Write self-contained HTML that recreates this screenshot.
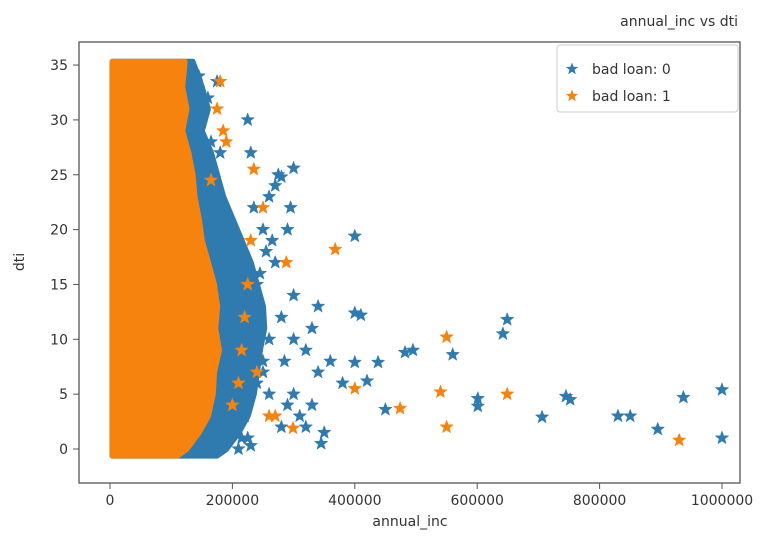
<!DOCTYPE html>
<html><head><meta charset="utf-8"><style>
body{margin:0;background:#fff;width:774px;height:548px;overflow:hidden}
svg{display:block;font-family:"DejaVu Sans","Liberation Sans",sans-serif}
</style></head><body>
<svg id="chart" width="774" height="548">
<text x="738" y="26" font-size="14" fill="#333" text-anchor="end">annual_inc vs dti</text>
<rect x="79" y="42" width="661" height="441" fill="#fff" stroke="#555" stroke-width="1.3"/>
<g id="marks"></g>
<g id="axes"></g>
<text x="410" y="526" font-size="14" fill="#333" text-anchor="middle">annual_inc</text>
<text x="0" y="0" font-size="14" fill="#333" text-anchor="middle" transform="translate(24,262) rotate(-90)">dti</text>
<g>
<rect x="557" y="45" width="181" height="67" rx="3" fill="#fff" fill-opacity="0.8" stroke="#ccc"/>
<g id="legend-marks"></g>
<text x="592" y="74" font-size="14" fill="#333">bad loan: 0</text>
<text x="592" y="101" font-size="14" fill="#333">bad loan: 1</text>
</g>
</svg>
<script>
const xTicks=[0,200000,400000,600000,800000,1000000];
const yTicks=[0,5,10,15,20,25,30,35];
// dense-region envelopes: dti level and max annual_inc at that level
const envDti=[35.3,33,31,29,27,25,23,21,19,17,15,13,11,9,7,5,3,1.5,0,-0.6];
const blueEnvMax=[135000,150000,160000,150000,165000,175000,185000,200000,215000,230000,240000,250000,252000,245000,240000,235000,225000,210000,190000,175000];
const orangeEnvMax=[122000,118000,125000,118000,128000,135000,138000,145000,150000,160000,170000,175000,172000,178000,170000,168000,160000,145000,125000,110000];
const envMinInc=4000;
const blueInc=[1000000,1000000,937000,895000,850000,830000,752000,745000,706000,649000,642000,601000,601000,560000,495000,482000,450000,438000,420000,400000,400000,400000,410000,380000,360000,345000,340000,330000,320000,300000,300000,295000,290000,285000,280000,275000,270000,265000,260000,255000,250000,245000,240000,235000,230000,225000,300000,310000,320000,340000,290000,280000,260000,250000,240000,230000,220000,215000,210000,205000,200000,270000,350000,330000,300000,280000,260000,250000,240000,230000,225000,215000,205000,175000,160000,150000,145000,140000,165000,180000];
const blueDti=[1,5.4,4.7,1.8,3,3,4.5,4.8,2.9,11.8,10.5,4.6,3.9,8.6,9,8.8,3.6,7.9,6.2,7.9,19.4,12.4,12.2,6,8,0.5,7,11,9,25.6,14,22,20,8,24.8,25,24,19,23,18,20,16,15,22,27,30,5,3,2,13,4,12,10,7,6,9,3,1,0,11,14,17,1.5,4,10,2,5,8,12,0.3,1,4,2,33.5,32,31,34,29,28,27];
const orangeInc=[930000,649000,550000,550000,540000,474000,400000,368000,299000,288000,250000,235000,230000,225000,220000,260000,270000,240000,215000,210000,200000,190000,185000,180000,175000,165000];
const orangeDti=[0.8,5,10.2,2,5.2,3.7,5.5,18.2,1.9,17,22,25.5,19,15,12,3,3,7,9,6,4,28,29,33.5,31,24.5];
const X0=110,XS=122.4/200000,Y0=449,YS=10.97;
const xs=v=>X0+v*XS, ys=v=>Y0-v*YS;
const NS="http://www.w3.org/2000/svg";
const marks=document.getElementById('marks'),axes=document.getElementById('axes');
function starPath(cx,cy,r){let d="";for(let i=0;i<10;i++){const a=-Math.PI/2+i*Math.PI/5,rr=i%2?r*0.42:r;d+=(i?"L":"M")+(cx+rr*Math.cos(a)).toFixed(1)+","+(cy+rr*Math.sin(a)).toFixed(1);}return d+"Z";}
function envelope(maxArr,color,name){
  let pts=envDti.map((d,i)=>xs(maxArr[i])+","+ys(d));
  for(let i=envDti.length-1;i>=0;i--)pts.push(xs(envMinInc)+","+ys(envDti[i]));
  const p=document.createElementNS(NS,'polygon');
  p.setAttribute('points',pts.join(' '));p.setAttribute('fill',color);
  p.setAttribute('stroke',color);p.setAttribute('stroke-width','6');p.setAttribute('stroke-linejoin','round');
  
  
  marks.appendChild(p);
}
function stars(inc,dti,color,name){
  inc.forEach((v,i)=>{const p=document.createElementNS(NS,'path');
    p.setAttribute('d',starPath(xs(v),ys(dti[i]),7));p.setAttribute('fill',color);p.setAttribute('stroke',color);p.setAttribute('stroke-width','0.5');
    
    
    marks.appendChild(p);});
}
envelope(blueEnvMax,'#2f7bb0','dense-region-bad-loan-0');
stars(blueInc,blueDti,'#2f7bb0','point-bad-loan-0');
envelope(orangeEnvMax,'#f7830f','dense-region-bad-loan-1');
stars(orangeInc,orangeDti,'#f7830f','point-bad-loan-1');
xTicks.forEach(t=>{const l=document.createElementNS(NS,'line');l.setAttribute('x1',xs(t));l.setAttribute('x2',xs(t));l.setAttribute('y1',483);l.setAttribute('y2',489);l.setAttribute('stroke','#555');
  
  
  axes.appendChild(l);
  const tx=document.createElementNS(NS,'text');tx.setAttribute('x',xs(t));tx.setAttribute('y',505);tx.setAttribute('font-size','14');tx.setAttribute('fill','#333');tx.setAttribute('text-anchor','middle');tx.textContent=t;
  
  
  axes.appendChild(tx);});
yTicks.forEach(t=>{const l=document.createElementNS(NS,'line');l.setAttribute('x1',73);l.setAttribute('x2',79);l.setAttribute('y1',ys(t));l.setAttribute('y2',ys(t));l.setAttribute('stroke','#555');
  
  
  axes.appendChild(l);
  const tx=document.createElementNS(NS,'text');tx.setAttribute('x',68);tx.setAttribute('y',ys(t)+5);tx.setAttribute('font-size','14');tx.setAttribute('fill','#333');tx.setAttribute('text-anchor','end');tx.textContent=t;
  
  
  axes.appendChild(tx);});
const lm=document.getElementById('legend-marks');
[['#2f7bb0',69],['#f7830f',96]].forEach(([c,y])=>{const p=document.createElementNS(NS,'path');p.setAttribute('d',starPath(572,y,6.5));p.setAttribute('fill',c);
  
  
  lm.appendChild(p);});
</script>
</body></html>
